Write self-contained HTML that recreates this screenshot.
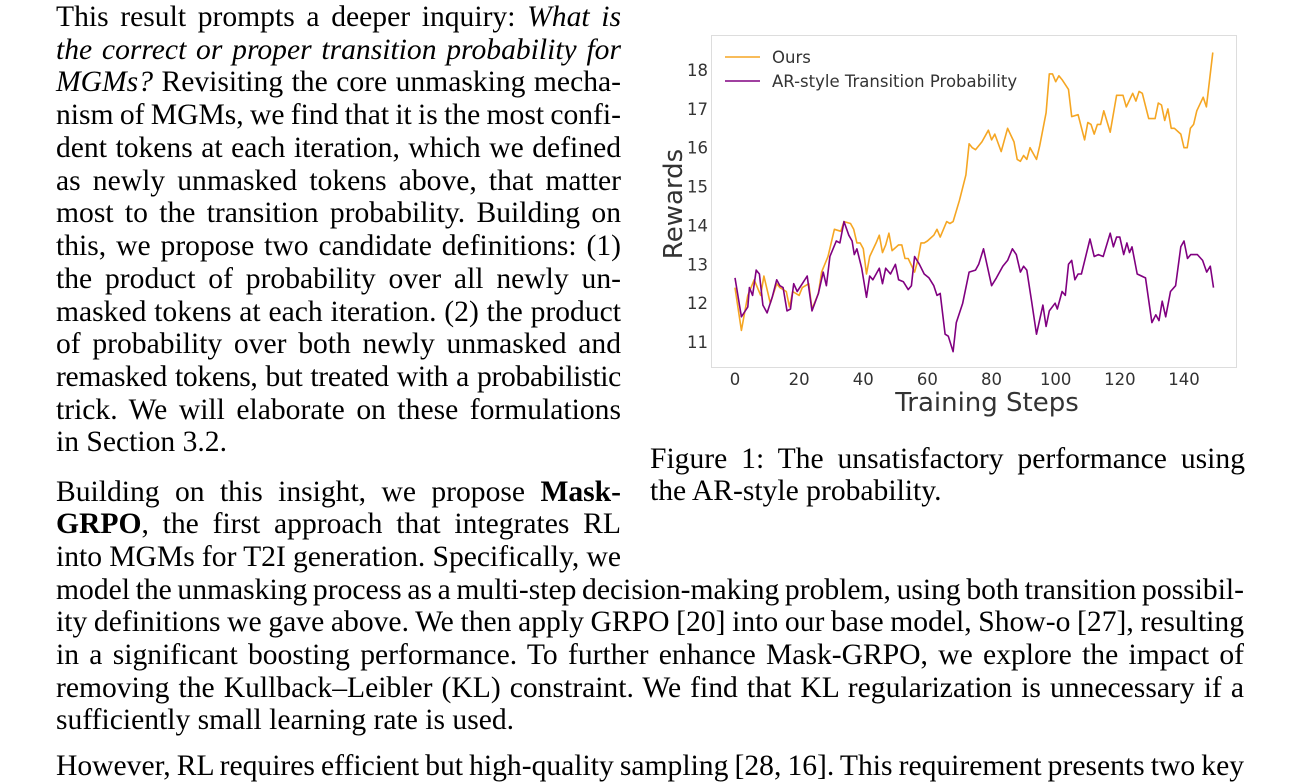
<!DOCTYPE html>
<html><head><meta charset="utf-8">
<style>
body{margin:0;width:1300px;height:766px;overflow:hidden;background:#fff;position:relative;font-family:"Liberation Serif",serif;color:#000}
.l{position:absolute;font-size:29.6px;line-height:33px;white-space:nowrap;text-align:justify;text-align-last:justify;word-spacing:-2.5px}
.n{text-align-last:left;word-spacing:0}
svg{position:absolute;left:0;top:0}
svg text{font-family:"DejaVu Sans",sans-serif;fill:#333}
</style></head><body>
<div>
<div class="l" style="left:56px;top:1px;width:565px"><span>This result prompts a deeper inquiry: <i>What is</i></span></div>
<div class="l" style="left:56px;top:34px;width:565px"><i>the correct or proper transition probability for</i></div>
<div class="l" style="left:56px;top:66px;width:565px"><i>MGMs?</i> Revisiting the core unmasking mecha-</div>
<div class="l" style="left:56px;top:99px;width:565px">nism of MGMs, we find that it is the most confi-</div>
<div class="l" style="left:56px;top:132px;width:565px">dent tokens at each iteration, which we defined</div>
<div class="l" style="left:56px;top:165px;width:565px">as newly unmasked tokens above, that matter</div>
<div class="l" style="left:56px;top:197px;width:565px">most to the transition probability. Building on</div>
<div class="l" style="left:56px;top:230px;width:565px">this, we propose two candidate definitions: (1)</div>
<div class="l" style="left:56px;top:263px;width:565px">the product of probability over all newly un-</div>
<div class="l" style="left:56px;top:296px;width:565px">masked tokens at each iteration. (2) the product</div>
<div class="l" style="left:56px;top:328px;width:565px">of probability over both newly unmasked and</div>
<div class="l" style="left:56px;top:361px;width:565px;letter-spacing:-0.3px">remasked tokens, but treated with a probabilistic</div>
<div class="l" style="left:56px;top:394px;width:565px">trick. We will elaborate on these formulations</div>
<div class="l n" style="left:56px;top:426px;width:565px">in Section 3.2.</div>
<div class="l" style="left:56px;top:476px;width:565px">Building on this insight, we propose <b>Mask-</b></div>
<div class="l" style="left:56px;top:508px;width:565px"><b>GRPO</b>, the first approach that integrates RL</div>
<div class="l" style="left:56px;top:541px;width:565px">into MGMs for T2I generation. Specifically, we</div>
<div class="l" style="left:56px;top:574px;width:1188px">model the unmasking process as a multi-step decision-making problem, using both transition possibil-</div>
<div class="l" style="left:56px;top:606px;width:1188px">ity definitions we gave above. We then apply GRPO [20] into our base model, Show-o [27], resulting</div>
<div class="l" style="left:56px;top:639px;width:1188px">in a significant boosting performance. To further enhance Mask-GRPO, we explore the impact of</div>
<div class="l" style="left:56px;top:672px;width:1188px">removing the Kullback–Leibler (KL) constraint. We find that KL regularization is unnecessary if a</div>
<div class="l n" style="left:56px;top:704px;width:1188px">sufficiently small learning rate is used.</div>
<div class="l" style="left:56px;top:750px;width:1188px">However, RL requires efficient but high-quality sampling [28, 16]. This requirement presents two key</div>
</div>
<div>
<div class="l" style="left:650px;top:443px;width:595px">Figure 1: The unsatisfactory performance using</div>
<div class="l n" style="left:650px;top:475px;width:595px">the AR-style probability.</div>
</div>
<svg id="chart" width="1300" height="766"></svg>
<script>
const oursSteps=[0,2,4,6,8,9,11,13,14,16,17,18,20,21,23,24,26,27,29,31,33,34,36,37,38,39,40,41,42,44,45,46,47,48,49,51,52,53,54,56,57,58,59,60,62,63,64,66,67,68,70,72,73,74,75,77,79,80,81,83,85,87,88,89,90,91,92,94,95,97,98,99,100,101,102,104,105,107,109,110,111,112,113,114,115,117,119,121,122,124,125,126,127,129,131,132,133,134,135,136,137,139,140,141,142,143,144,146,147,149];
const oursValues=[12.4,11.3,12.2,12.6,12.2,12.7,12.0,12.5,12.4,12.3,11.9,12.3,12.2,12.4,12.5,11.85,12.25,12.8,13.2,13.9,13.85,14.1,14.05,13.9,13.55,13.55,13.4,12.75,13.2,13.55,13.75,13.3,13.5,13.8,13.35,13.5,13.5,13.15,13.15,12.8,13.1,13.55,13.55,13.6,13.75,13.9,13.7,14.1,14.05,14.1,14.65,15.3,16.1,16.0,15.95,16.15,16.45,16.2,16.35,15.9,16.5,16.15,15.7,15.65,15.8,15.7,16.0,15.7,16.05,16.9,17.9,17.9,17.7,17.85,17.75,17.5,16.8,16.85,16.2,16.65,16.6,16.35,16.6,16.6,16.95,16.4,17.35,17.35,17.05,17.4,17.2,17.45,17.4,16.75,16.75,17.15,17.1,16.7,17.0,16.5,16.5,16.35,16.0,16.0,16.5,16.6,16.95,17.3,17.05,18.45];
const arSteps=[0,2,4,4.5,5.5,6.6,7.6,8.7,10,11.6,13,14,15,16.2,17.3,18.3,19.4,21,22.5,24,26,27.5,28.5,29.6,31.6,32.7,34,35.5,36.5,37.2,38,39.5,41,42,43,45,46,47,48.5,50,51,52.5,54,55,56,57.5,59,60.5,62,63,64,65.5,66.5,68,69,71,73,75,76,77.5,80,81.5,83.5,85,86.5,87.7,89,90,91,92.5,94,96,97,98,99.8,100.5,102,103,104,105,106,107,108,110.7,112,113.3,114.8,117,118,119,120,121.2,122.2,123,123.8,125.4,128,130,131.2,132.2,133.2,134.3,135.8,137.4,139,140,141.1,142.1,144.2,145.8,147.1,148.2,149.2];
const arValues=[12.65,11.65,11.9,12.4,12.2,12.85,12.75,11.95,11.75,12.15,12.6,12.45,12.4,11.8,11.85,12.5,12.3,12.5,12.7,11.8,12.25,12.8,12.45,13.2,13.6,13.55,14.1,13.75,13.6,13.25,13.4,12.9,12.15,12.7,12.6,12.9,12.5,12.9,12.75,13.0,12.6,12.55,12.35,12.45,13.2,13.0,12.75,12.65,12.45,12.2,12.25,11.2,11.15,10.75,11.5,12.0,12.8,12.85,13.0,13.4,12.45,12.65,12.95,13.1,13.4,13.25,12.8,12.95,12.85,12.05,11.2,11.95,11.4,11.8,12.0,11.85,12.3,12.2,13.0,13.1,12.6,12.75,12.75,13.65,13.2,13.25,13.2,13.8,13.45,13.7,13.7,13.25,13.55,13.3,13.45,12.75,12.65,11.5,11.7,11.55,12.05,11.65,12.3,12.45,13.45,13.6,13.15,13.25,13.25,13.1,12.8,12.95,12.4];
const xTicks=[0,20,40,60,80,100,120,140];
const yTicks=[11,12,13,14,15,16,17,18];
const NS='http://www.w3.org/2000/svg';
const svg=document.getElementById('chart');
const X=s=>735+s*3.207;
const Y=v=>70+(18-v)*38.86;
function mk(t,a){const e=document.createElementNS(NS,t);for(const k in a)e.setAttribute(k,a[k]);svg.appendChild(e);return e;}
const frame=mk('rect',{x:711.5,y:35.5,width:525,height:332,fill:'none',stroke:'#ddd','stroke-width':1});


xTicks.forEach(t=>{const e=mk('text',{x:X(t),y:385,'font-size':16.5,'text-anchor':'middle'});e.textContent=t;

});
yTicks.forEach(t=>{const e=mk('text',{x:708,y:Y(t)+6,'font-size':16.5,'text-anchor':'end'});e.textContent=t;

});
function line(xs,vs,c,name){const d=xs.map((s,i)=>(i?'L':'M')+X(s).toFixed(1)+','+Y(vs[i]).toFixed(1)).join('');
const p=mk('path',{d:d,fill:'none',stroke:c,'stroke-width':1.6,'stroke-linejoin':'round'});

}
line(oursSteps,oursValues,'#f5a623','ours-line');
line(arSteps,arValues,'#800080','ar-style-line');
const xl=mk('text',{x:987,y:411,'font-size':26,'text-anchor':'middle'});xl.textContent='Training Steps';


const yl=mk('text',{x:0,y:0,'font-size':26,'text-anchor':'middle',transform:'translate(682,204) rotate(-90)'});yl.textContent='Rewards';


[['#f5a623','Ours',57],['#800080','AR-style Transition Probability',81]].forEach(([c,t,y])=>{
const l=mk('line',{x1:725,x2:760,y1:y,y2:y,stroke:c,'stroke-width':1.6});


const e=mk('text',{x:772,y:y+6,'font-size':16.5});e.textContent=t;

});
</script>
</body></html>
